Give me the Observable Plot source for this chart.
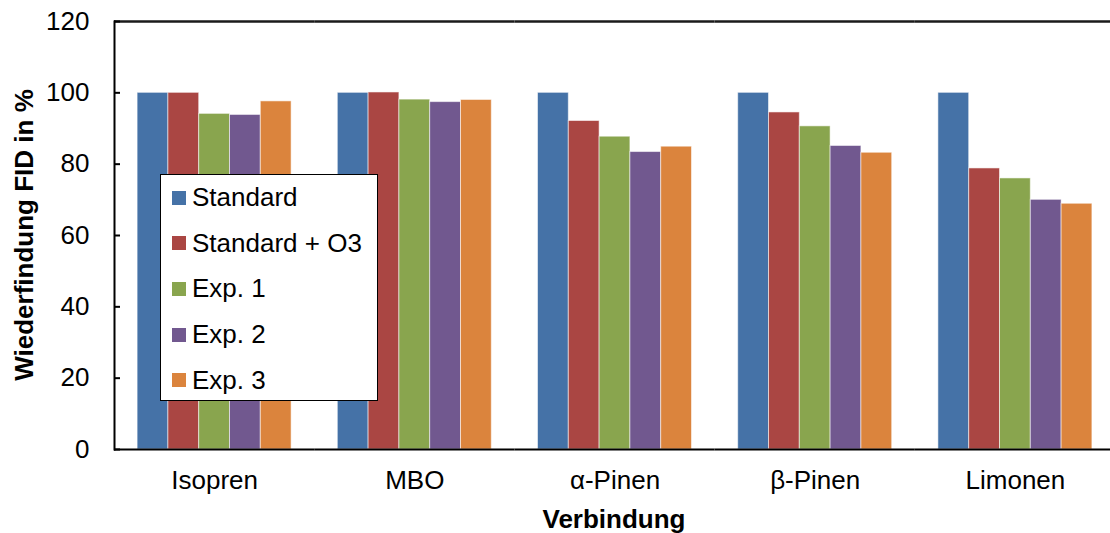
<!DOCTYPE html>
<html>
<head>
<meta charset="utf-8">
<script src="https://cdn.jsdelivr.net/npm/d3@7"></script>
<script src="https://cdn.jsdelivr.net/npm/@observablehq/plot@0.6"></script>
<style>
  body { margin: 0; background: #fff; font-family: "Liberation Sans", Arial, sans-serif; }
  #chart { position: relative; width: 1110px; height: 533px; }
  #chart svg { position: absolute; left: 0; top: 0; }
  .title { position: absolute; font-weight: bold; font-size: 26px; line-height: 26px; white-space: nowrap; color: #000; }
  #ytitle { left: 24px; top: 235px; transform: translate(-50%, -50%) rotate(-90deg); }
  #xtitle { left: 614px; top: 506px; transform: translateX(-50%); }
  #legend { position: absolute; left: 160px; top: 174px; width: 218px; height: 227px; box-sizing: border-box;
            border: 1.5px solid #000; background: #fff; }
  .item { display: flex; align-items: center; height: 45.6px; font-size: 26px; color: #000; white-space: nowrap; }
  .swatch { width: 14px; height: 14px; margin-left: 11px; margin-right: 6px; flex: none; }
</style>
</head>
<body>
<div id="chart">
  <div id="ytitle" class="title">Wiederfindung FID in %</div>
  <div id="xtitle" class="title">Verbindung</div>
  <div id="legend"></div>
</div>
<script>
// Compounds on the x axis and the measurement series within each group
const categories = ["Isopren", "MBO", "α-Pinen", "β-Pinen", "Limonen"];
const series = ["Standard", "Standard + O3", "Exp. 1", "Exp. 2", "Exp. 3"];

// Recovery (%) per compound, one array per series
const standard   = [100, 100, 100, 100, 100];
const standardO3 = [100, 100.1, 92.1, 94.5, 78.8];
const exp1       = [94.1, 98.1, 87.7, 90.6, 76.0];
const exp2       = [93.8, 97.4, 83.4, 85.1, 70.0];
const exp3       = [97.6, 98.0, 84.9, 83.2, 68.9];

const yTicks = [0, 20, 40, 60, 80, 100, 120];
const colors = ["#4572A7", "#AA4643", "#89A54E", "#71588F", "#DB843D"];

const seriesValues = [standard, standardO3, exp1, exp2, exp3];
const rows = categories.flatMap((category, i) =>
  series.map((s, j) => ({category, series: s, value: seriesValues[j][i]}))
);

const chart = Plot.plot({
  width: 1110,
  height: 533,
  marginTop: 21,
  marginBottom: 84,
  marginLeft: 114,
  marginRight: -5,
  style: {fontFamily: "'Liberation Sans', Arial, sans-serif", fontSize: "26px", color: "#000", background: "transparent"},
  fx: {domain: categories, padding: 0, round: false, label: null},
  x: {domain: series, paddingInner: 0, paddingOuter: 0.75, round: false, axis: null},
  y: {domain: [0, 120], label: null},
  color: {domain: series, range: colors},
  marks: [
    Plot.barY(rows, {fx: "category", x: "series", y: "value", fill: "series",
                     stroke: "#fff", strokeOpacity: 0.55, strokeWidth: 1}),
    Plot.ruleY([120], {stroke: "#1a1a1a", strokeWidth: 2.5}),
    Plot.ruleY([0], {stroke: "#000", strokeWidth: 2}),
    Plot.frame({anchor: "left", facetAnchor: "left", stroke: "#000", strokeWidth: 2}),
    Plot.axisY(yTicks, {tickSize: 0, tickPadding: 25, label: null, fontSize: 26}),
    Plot.axisY(yTicks, {tickSize: -6, fill: "none", label: null, strokeWidth: 2}),
    Plot.axisFx({anchor: "bottom", tickSize: 0, tickPadding: 21, label: null, fontSize: 26})
  ]
});
document.getElementById("chart").prepend(chart);

// Boxed legend inside the plot area
const legend = d3.select("#legend");
series.forEach((s, i) => {
  const item = legend.append("div").attr("class", "item");
  item.append("div").attr("class", "swatch").style("background", colors[i]);
  item.append("span").text(s);
});
</script>
</body>
</html>
